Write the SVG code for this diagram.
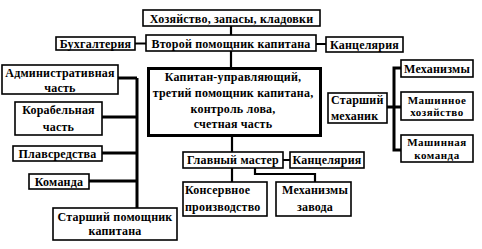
<svg xmlns="http://www.w3.org/2000/svg" width="482" height="249" viewBox="0 0 482 249">
<style>
.b{fill:#fff;stroke:#000;stroke-width:1.6}
.m{fill:#fff;stroke:#000;stroke-width:3}
.t{font-family:'Liberation Serif','DejaVu Serif',serif;font-weight:bold;font-size:12px;fill:#000;text-anchor:middle;dominant-baseline:central;letter-spacing:0.2px}
.s{font-size:11px;letter-spacing:0.5px}
.l{text-anchor:start}
.c{fill:none;stroke:#000;stroke-width:2.2}
.k{fill:none;stroke:#000;stroke-width:3}
</style>
<rect width="482" height="249" fill="#fff"/>
<g id="connectors">
<path class="c" d="M231 26V35M135 43.5H146M316 44H326M231 51V67M232 136V153M283 160H290M232 168V182M255 168V174H315V182"/>
<path class="k" d="M118 78H137M102 117H137M102 153H137M89 181H137M137 78V208"/>
<path class="k" d="M387 107H401M401 68H394V150H401"/>
</g>
<g id="n-hoz"><rect class="b" x="143" y="10" width="177" height="16"/><text class="t" x="231.5" y="18.5" letter-spacing="0.6">Хозяйство, запасы, кладовки</text></g>
<g id="n-vtoroy"><rect class="b" x="146" y="35" width="170" height="16"/><text class="t" x="231" y="43.5">Второй помощник капитана</text></g>
<g id="n-buh"><rect class="b" x="56" y="37" width="79" height="13"/><text class="t" x="95.5" y="43.5">Бухгалтерия</text></g>
<g id="n-kanc1"><rect class="b" x="326" y="37" width="77" height="15"/><text class="t" x="364.5" y="44.5">Канцелярия</text></g>
<g id="n-main"><rect class="m" x="148.5" y="68.5" width="172" height="67"/>
<text class="t" x="233" y="77">Капитан-управляющий,</text>
<text class="t" x="233" y="93" letter-spacing="0">третий помощник капитана,</text>
<text class="t" x="233" y="109">контроль лова,</text>
<text class="t" x="233" y="124">счетная часть</text></g>
<g id="n-adm"><rect class="b" x="2" y="65" width="116" height="29"/><text class="t" x="60" y="72.5" letter-spacing="0">Административная</text><text class="t" x="60" y="88">часть</text></g>
<g id="n-kor"><rect class="b" x="15" y="102" width="87" height="33"/><text class="t" x="58.5" y="109.5" letter-spacing="0.5">Корабельная</text><text class="t" x="58.5" y="127">часть</text></g>
<g id="n-plav"><rect class="b" x="13" y="146" width="89" height="15"/><text class="t" x="57.5" y="153.5" letter-spacing="0.5">Плавсредства</text></g>
<g id="n-kom"><rect class="b" x="29" y="174" width="60" height="15"/><text class="t" x="59" y="181.5" letter-spacing="0.5">Команда</text></g>
<g id="n-spk"><rect class="b" x="53" y="208" width="124" height="32"/><text class="t" x="115" y="217">Старший помощник</text><text class="t" x="115" y="231">капитана</text></g>
<g id="n-mech"><rect class="b" x="328" y="93" width="59" height="30"/><text class="t l" x="331" y="100" letter-spacing="0">Старший</text><text class="t l" x="331" y="116" letter-spacing="0">механик</text></g>
<g id="n-mex"><rect class="b" x="401" y="60" width="72" height="17"/><text class="t" x="437" y="68.5">Механизмы</text></g>
<g id="n-mhoz"><rect class="b" x="401" y="92" width="72" height="28"/><text class="t s" x="437" y="99.5">Машинное</text><text class="t s" x="437" y="111.5">хозяйство</text></g>
<g id="n-mkom"><rect class="b" x="401" y="135" width="72" height="27"/><text class="t s" x="437" y="142">Машинная</text><text class="t s" x="437" y="155">команда</text></g>
<g id="n-glav"><rect class="b" x="183" y="152" width="100" height="16"/><text class="t" x="233" y="160">Главный мастер</text></g>
<g id="n-kanc2"><rect class="b" x="290" y="152" width="74" height="16"/><text class="t" x="327" y="160">Канцелярия</text></g>
<g id="n-kons"><rect class="b" x="183" y="182" width="84" height="34"/><text class="t l" x="185" y="190" letter-spacing="0.5">Консервное</text><text class="t l" x="185" y="207">производство</text></g>
<g id="n-zav"><rect class="b" x="276" y="182" width="75" height="34"/><text class="t" x="315" y="190">Механизмы</text><text class="t" x="315" y="207">завода</text></g>
</svg>
